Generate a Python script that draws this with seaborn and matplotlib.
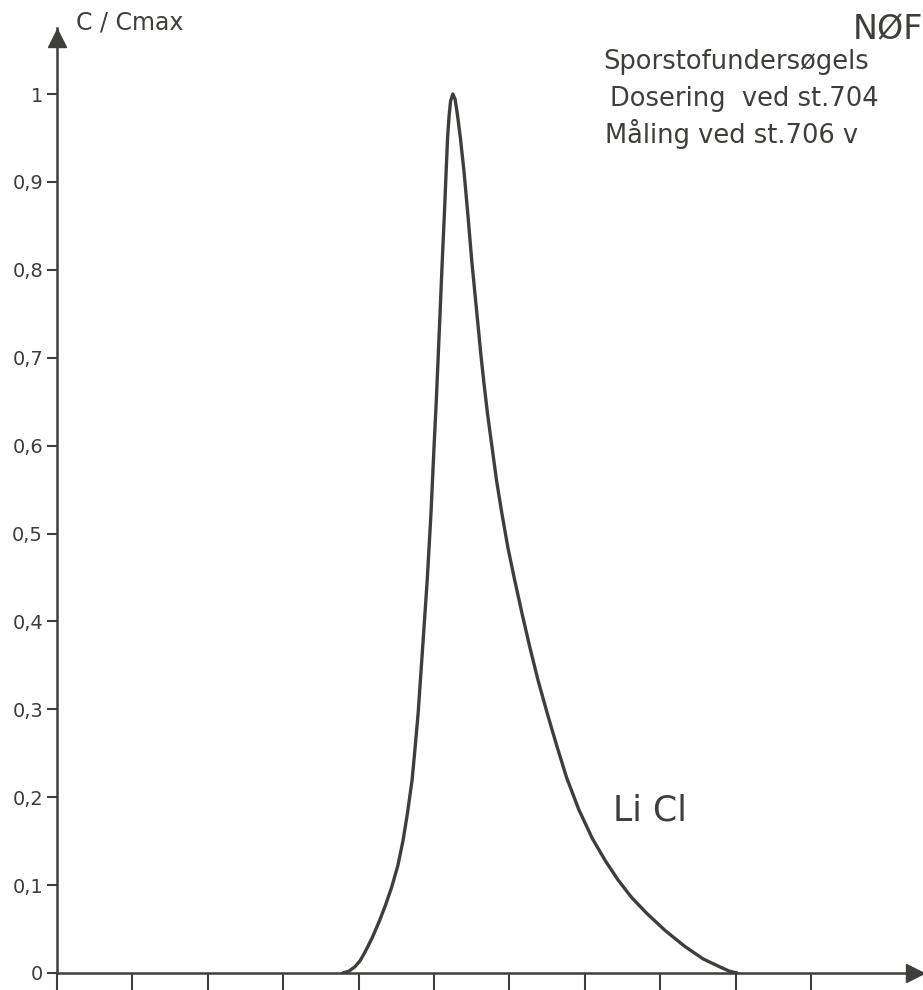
import matplotlib
matplotlib.use("Agg")
import matplotlib.pyplot as plt
import seaborn as sns
import pandas as pd

# ---- data (x in axis-tick units, y = C/Cmax) ----
time_units = [3.79, 3.87, 3.95, 4.02, 4.08, 4.18, 4.28, 4.36, 4.44, 4.52, 4.59,
              4.65, 4.71, 4.75, 4.79, 4.85, 4.91, 4.96, 5.00, 5.03, 5.05, 5.08,
              5.11, 5.14, 5.16, 5.18, 5.20, 5.22, 5.25, 5.28, 5.31, 5.35, 5.40,
              5.45, 5.50, 5.56, 5.62, 5.66, 5.71, 5.77, 5.83, 5.90, 5.98, 6.07,
              6.17, 6.27, 6.38, 6.50, 6.63, 6.76, 6.92, 7.10, 7.27, 7.44, 7.62,
              7.82, 8.07, 8.33, 8.57, 8.79, 8.92, 9.02]
c_ratio = [0.000, 0.002, 0.007, 0.014, 0.023, 0.040, 0.060, 0.078, 0.098, 0.122, 0.151,
           0.183, 0.220, 0.257, 0.296, 0.371, 0.447, 0.523, 0.598, 0.650, 0.690, 0.750,
           0.811, 0.868, 0.910, 0.950, 0.975, 0.992, 1.000, 0.994, 0.977, 0.950, 0.910,
           0.862, 0.811, 0.758, 0.705, 0.673, 0.636, 0.598, 0.560, 0.523, 0.484, 0.447,
           0.408, 0.371, 0.333, 0.296, 0.258, 0.222, 0.186, 0.153, 0.128, 0.106, 0.086,
           0.068, 0.048, 0.030, 0.016, 0.007, 0.002, 0.000]
y_ticks = [0.0, 0.1, 0.2, 0.3, 0.4, 0.5, 0.6, 0.7, 0.8, 0.9, 1.0]
y_tick_labels = ["0", "0,1", "0,2", "0,3", "0,4", "0,5", "0,6", "0,7", "0,8", "0,9", "1"]
x_ticks = [0, 1, 2, 3, 4, 5, 6, 7, 8, 9, 10]
y_label = "C / Cmax"
curve_label = "Li Cl"
title_text = "NØF"
info_lines = ["Sporstofundersøgels", "Dosering  ved st.704", "Måling ved st.706 v"]

sns.set_theme(style="white")
plt.rcParams['font.family'] = ['DejaVu Sans']
ink = "#3f3e3a"

W, H = 923, 990
fig = plt.figure(figsize=(W / 100, H / 100), dpi=100)
fig.patch.set_facecolor("white")

x0, y0 = 57, 973           # pixel of origin
px_per_x = 75.4
px_per_y = 879.0
xmax = (W - x0) / px_per_x
ymax = (y0 - 28) / px_per_y
ax = fig.add_axes([x0 / W, (H - y0) / H, (W - x0) / W, (y0 - 28) / H])
ax.set_facecolor("none")

df = pd.DataFrame({"t": time_units, "c": c_ratio})
sns.lineplot(data=df, x="t", y="c", ax=ax, color=ink, linewidth=2.4, sort=False,
             estimator=None)
for ln in ax.lines:
    ln.set_solid_joinstyle("round")
    ln.set_solid_capstyle("round")

ax.set_xlim(0, xmax)
ax.set_ylim(0, ymax)
ax.set_xlabel("")
ax.set_ylabel("")

for s in ["top", "right"]:
    ax.spines[s].set_visible(False)
for s in ["left", "bottom"]:
    ax.spines[s].set_color(ink)
    ax.spines[s].set_linewidth(1.8)

ax.set_yticks(y_ticks)
ax.set_yticklabels(y_tick_labels)
ax.set_xticks(x_ticks)
ax.set_xticklabels([])
ax.tick_params(axis="y", direction="out", length=7, width=1.5, color=ink,
               labelsize=14, labelcolor=ink, pad=3, left=True)
ax.tick_params(axis="x", direction="out", length=13, width=1.5, color=ink,
               bottom=True)

# axis arrows
ax.plot([0], [ymax - 0.011], marker="^", markersize=13, color=ink,
        clip_on=False)
ax.plot([xmax - 0.1], [0], marker=">", markersize=13, color=ink,
        clip_on=False)

# texts
fig.text(76 / W, 1 - 22 / H, y_label, fontsize=17, color=ink, ha="left", va="center")
fig.text(853 / W, 1 - 30 / H, title_text, fontsize=24, color=ink, ha="left", va="center")
info_y = [62, 99, 134]
info_x = [603, 610, 605]
for txt, xx, yy in zip(info_lines, info_x, info_y):
    fig.text(xx / W, 1 - yy / H, txt, fontsize=18.5, color=ink, ha="left", va="center")
ax.text(7.37, 0.185, curve_label, fontsize=25, color=ink, ha="left", va="center")

fig.savefig("out.png", dpi=100, facecolor="white")
